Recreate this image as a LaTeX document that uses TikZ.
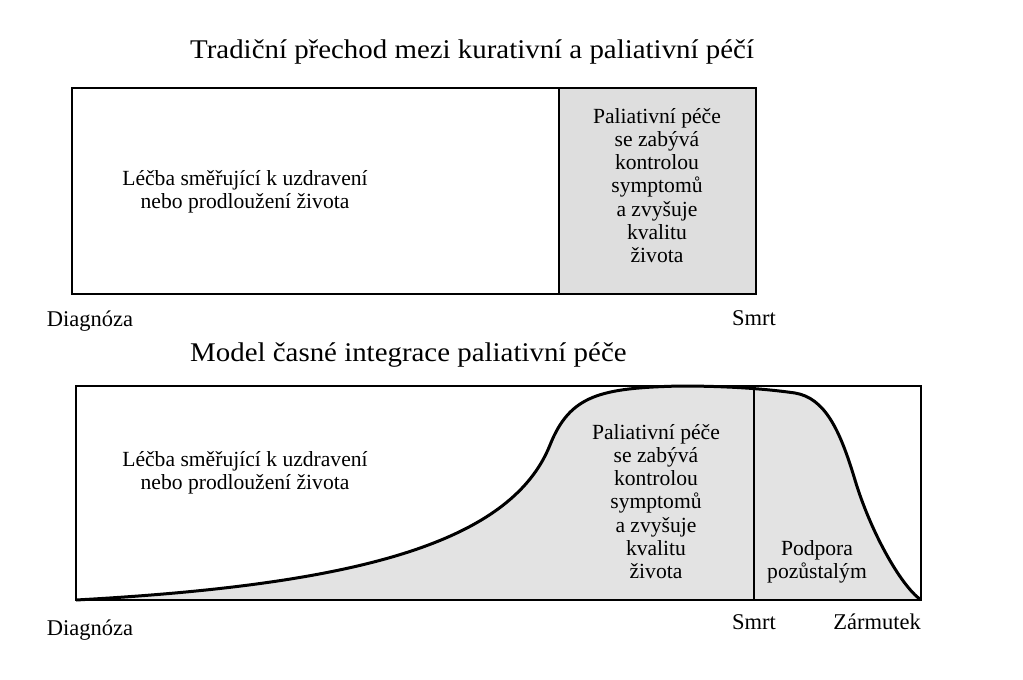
\documentclass[tikz,border=0pt]{standalone}
\usepackage{fontspec}
\setmainfont{Liberation Serif}
\definecolor{fillgray}{RGB}{222,222,222}
\tikzset{
  title/.style={anchor=base west, inner sep=0pt, xscale=1.07, font=\fontsize{27}{30}\selectfont},
  body/.style={anchor=north, inner sep=0pt, align=center, font=\fontsize{21.6}{23.2}\selectfont},
  axis/.style={anchor=base, inner sep=0pt, font=\fontsize{22.5}{24}\selectfont},
}
\begin{document}
\begin{tikzpicture}[x=1pt,y=-1pt]
\useasboundingbox (0,0) rectangle (1023,680);
\fill[white] (0,0) rectangle (1023,680);
% ---- top diagram
\node[title] (t1) at (190,58) {Tradiční přechod mezi kurativní a paliativní péčí};
\fill[fillgray] (559,88) rectangle (756,294);
\draw[line width=2pt] (72,88) rectangle (756,294);
\draw[line width=2pt] (559,88) -- (559,294);
\node[body] (c1) at (245,170) {Léčba směřující k uzdravení\\nebo prodloužení života};
\node[body] (p1) at (657,108) {Paliativní péče\\se zabývá\\kontrolou\\symptomů\\a zvyšuje\\kvalitu\\života};
\node[axis] (d1) at (90,326) {Diagnóza};
\node[axis] (s1) at (754,325) {Smrt};
% ---- bottom diagram
\node[title] (t2) at (190,361) {Model časné integrace paliativní péče};
\fill[fillgray!85] (76,600) .. controls (350,585) and (510,545) .. (550,445)
  .. controls (570,395) and (600,388) .. (680,386)
  .. controls (720,386) and (760,388) .. (795,393)
  .. controls (825,398) and (840,430) .. (855,480)
  .. controls (870,530) and (900,585) .. (921,600) -- cycle;
\draw[line width=1.5pt] (76,386) rectangle (921,600);
\draw[line width=1.5pt] (754,386) -- (754,600);
\draw[line width=3pt, line join=round] (76,600) .. controls (350,585) and (510,545) .. (550,445)
  .. controls (570,395) and (600,388) .. (680,386)
  .. controls (720,386) and (760,388) .. (795,393)
  .. controls (825,398) and (840,430) .. (855,480)
  .. controls (870,530) and (900,585) .. (921,600);
\node[body] (c2) at (245,451) {Léčba směřující k uzdravení\\nebo prodloužení života};
\node[body] (p2) at (656,424) {Paliativní péče\\se zabývá\\kontrolou\\symptomů\\a zvyšuje\\kvalitu\\života};
\node[body] (b2) at (817,540) {Podpora\\pozůstalým};
\node[axis] (d2) at (90,635) {Diagnóza};
\node[axis] (s2) at (754,629) {Smrt};
\node[axis] (z2) at (877,629) {Zármutek};
\end{tikzpicture}
\end{document}
